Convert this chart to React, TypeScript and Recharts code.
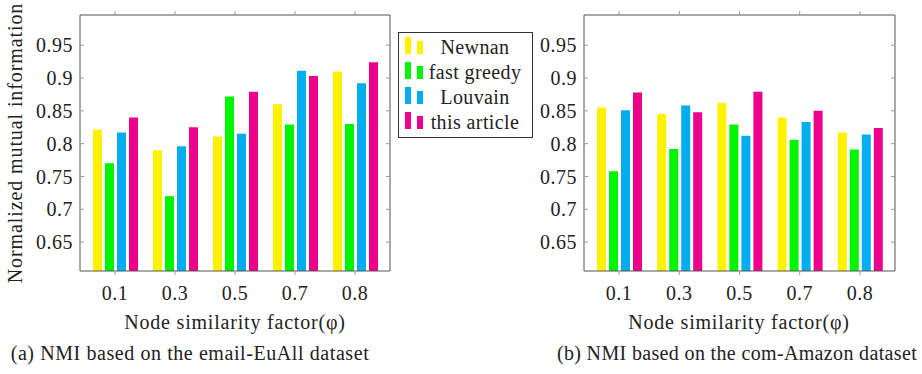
import { Bar, BarChart, XAxis, YAxis } from "recharts";

const factors = ["0.1", "0.3", "0.5", "0.7", "0.8"];
const seriesNames = ["Newnan", "fast greedy", "Louvain", "this article"];
const seriesColors = ["#FFF200", "#00F500", "#00AEEF", "#EC008C"];

// (a) email-EuAll
const emailNewnan = [0.821, 0.79, 0.811, 0.86, 0.91];
const emailFastGreedy = [0.77, 0.72, 0.872, 0.829, 0.83];
const emailLouvain = [0.817, 0.796, 0.815, 0.911, 0.892];
const emailThisArticle = [0.84, 0.825, 0.879, 0.903, 0.924];

// (b) com-Amazon
const amazonNewnan = [0.855, 0.845, 0.862, 0.84, 0.817];
const amazonFastGreedy = [0.758, 0.792, 0.829, 0.806, 0.791];
const amazonLouvain = [0.851, 0.858, 0.812, 0.833, 0.814];
const amazonThisArticle = [0.878, 0.848, 0.879, 0.85, 0.824];

const yTicks = [0.65, 0.7, 0.75, 0.8, 0.85, 0.9, 0.95];
const yDomain = [0.606, 0.996];

const FONT = '"Liberation Serif"';
const FRAME = "#555";
const TICK = "#999";

function buildRows(series: number[][]) {
  return factors.map((f, i) => {
    const row: Record<string, string | number> = { factor: f };
    series.forEach((s, k) => {
      row[`s${k}`] = s[i];
    });
    return row;
  });
}

const emailData = buildRows([emailNewnan, emailFastGreedy, emailLouvain, emailThisArticle]);
const amazonData = buildRows([amazonNewnan, amazonFastGreedy, amazonLouvain, amazonThisArticle]);

function fmtY(v: number) {
  return String(Number(v.toFixed(2)));
}

function Panel({ data, left, width }: { data: Record<string, string | number>[]; left: number; width: number }) {
  const tickText = { fill: "#222", fontSize: 20, fontFamily: FONT, letterSpacing: 0.5 };
  return (
    <div style={{ position: "absolute", left, top: 0 }}>
      <BarChart
        width={width}
        height={310}
        data={data}
        margin={{ top: 10, right: 0, bottom: 9, left: 20 }}
        barSize={9}
        barGap={3}
      >
        <XAxis
          xAxisId="bottom"
          dataKey="factor"
          height={30}
          padding={{ left: 5, right: 5 }}
          axisLine={{ stroke: FRAME }}
          tickLine={{ stroke: TICK }}
          tickSize={4}
          tickMargin={11}
          tick={tickText}
        />
        <XAxis
          xAxisId="top"
          orientation="top"
          dataKey="factor"
          height={5}
          padding={{ left: 5, right: 5 }}
          axisLine={{ stroke: FRAME }}
          tickLine={{ stroke: TICK }}
          tickSize={4}
          tickFormatter={() => ""}
        />
        <YAxis
          yAxisId="left"
          width={60}
          type="number"
          domain={yDomain}
          allowDataOverflow
          ticks={yTicks}
          tickFormatter={fmtY}
          axisLine={{ stroke: FRAME }}
          tickLine={{ stroke: TICK }}
          tickSize={-4}
          tickMargin={11}
          tick={tickText}
        />
        <YAxis
          yAxisId="right"
          orientation="right"
          width={10}
          type="number"
          domain={yDomain}
          allowDataOverflow
          ticks={yTicks}
          tickFormatter={() => ""}
          axisLine={{ stroke: FRAME }}
          tickLine={{ stroke: TICK }}
          tickSize={-4}
        />
        {seriesNames.map((name, k) => (
          <Bar
            key={name}
            name={name}
            dataKey={`s${k}`}
            xAxisId="bottom"
            yAxisId="left"
            fill={seriesColors[k]}
            isAnimationActive={false}
          />
        ))}
      </BarChart>
    </div>
  );
}

const textBase: React.CSSProperties = {
  position: "absolute",
  fontFamily: FONT,
  fontSize: 20,
  color: "#222",
  whiteSpace: "nowrap",
  lineHeight: "24px",
  letterSpacing: 0.8,
};

function Centered({
  cx,
  cy,
  w,
  spacing,
  children,
}: {
  cx: number;
  cy: number;
  w: number;
  spacing: number;
  children: React.ReactNode;
}) {
  return (
    <div style={{ ...textBase, letterSpacing: spacing, left: cx - w / 2, top: cy - 12, width: w, textAlign: "center" }}>
      {children}
    </div>
  );
}

function SharedLegend() {
  return (
    <div
      style={{
        position: "absolute",
        left: 398,
        top: 32,
        width: 135,
        height: 106,
        boxSizing: "border-box",
        border: "1px solid #333",
        paddingTop: 2,
        background: "#fff",
      }}
    >
      {seriesNames.map((name, k) => (
        <div key={name} style={{ position: "relative", height: 25 }}>
          <div style={{ position: "absolute", left: 6, top: 2, width: 6, height: 17, background: seriesColors[k] }} />
          <div style={{ position: "absolute", left: 18, top: 6, width: 6, height: 13, background: seriesColors[k] }} />
          <div
            style={{
              ...textBase,
              left: 28,
              top: 0,
              width: 96,
              textAlign: "center",
              letterSpacing: 0.4,
            }}
          >
            {name}
          </div>
        </div>
      ))}
    </div>
  );
}

export default function App() {
  return (
    <div style={{ position: "absolute", left: 0, top: 0, width: 922, height: 374, background: "#fff", overflow: "hidden" }}>
      <Panel data={emailData} left={0} width={400} />
      <Panel data={amazonData} left={504} width={401} />
      <SharedLegend />
      <div
        style={{
          ...textBase,
          letterSpacing: 0.9,
          left: 15 - 150,
          top: 143 - 12,
          width: 300,
          textAlign: "center",
          transform: "rotate(-90deg)",
        }}
      >
        Normalized mutual information
      </div>
      <Centered cx={235} cy={322} w={300} spacing={0.8}>Node similarity factor(φ)</Centered>
      <Centered cx={739} cy={322} w={300} spacing={0.8}>Node similarity factor(φ)</Centered>
      <Centered cx={190} cy={353} w={380} spacing={0.58}>(a) NMI based on the email-EuAll dataset</Centered>
      <Centered cx={737} cy={353} w={368} spacing={0.35}>(b) NMI based on the com-Amazon dataset</Centered>
    </div>
  );
}
